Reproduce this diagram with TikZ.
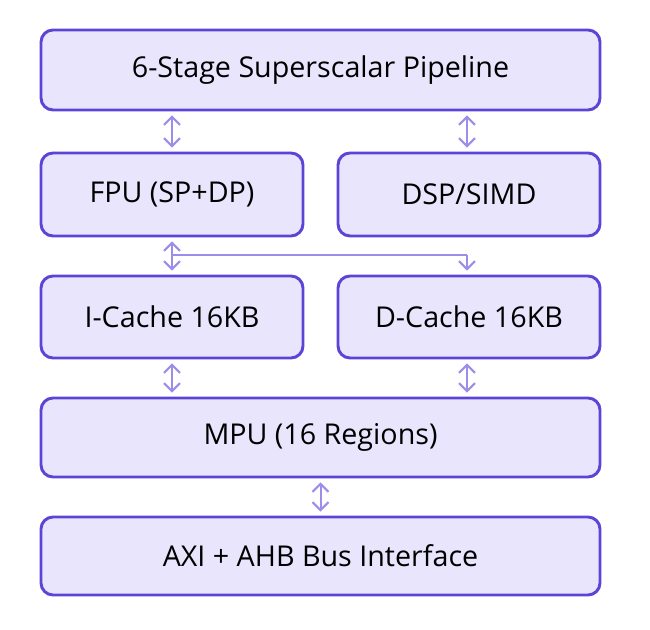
\documentclass[tikz,border=0pt]{standalone}
\usepackage{fontspec}
\setmainfont{Open Sans}
\usetikzlibrary{arrows.meta}
\definecolor{bfill}{HTML}{E8E5FC}
\definecolor{bdraw}{HTML}{5B45D6}
\definecolor{arr}{HTML}{9D8DEA}
\begin{document}
\begin{tikzpicture}[x=0.75pt,y=-0.75pt,
  box/.style={draw=bdraw,fill=bfill,line width=2.2pt,rounded corners=9pt,font=\fontsize{21.5}{25}\selectfont,inner sep=0pt},
  con/.style={draw=arr,line width=1.5pt},
  bi/.style={{Straight Barb[length=6pt,width=12pt]}-{Straight Barb[length=6pt,width=12pt]}},
  one/.style={-{Straight Barb[length=6pt,width=12pt]}}]
\useasboundingbox (0,0) rectangle (650,630);
\node[box,minimum width=559*0.75pt,minimum height=80*0.75pt] (pipe) at (320.5,70) {6-Stage Superscalar Pipeline};
\node[box,minimum width=262*0.75pt,minimum height=83*0.75pt] (fpu) at (172,194.5) {FPU (SP+DP)};
\node[box,minimum width=262*0.75pt,minimum height=83*0.75pt] (dsp) at (469,194.5) {DSP/SIMD};
\node[box,minimum width=262*0.75pt,minimum height=82*0.75pt] (ic) at (172,317) {I-Cache 16KB};
\node[box,minimum width=262*0.75pt,minimum height=82*0.75pt] (dc) at (469,317) {D-Cache 16KB};
\node[box,minimum width=559*0.75pt,minimum height=79*0.75pt] (mpu) at (320.5,437.5) {MPU (16 Regions)};
\node[box,minimum width=559*0.75pt,minimum height=78*0.75pt] (axi) at (320.5,556) {AXI + AHB Bus Interface};
\coordinate (j) at (172,255);
\coordinate (k) at (467,255);
\draw[con,bi] ([yshift=-3pt]pipe.south -| fpu) -- ([yshift=3pt]fpu.north);
\draw[con,bi] ([yshift=-3pt]pipe.south -| k) -- ([yshift=3pt]dsp.north -| k);
\draw[con,bi] ([yshift=-3pt]fpu.south) -- ([yshift=3pt]ic.north);
\draw[con] (j) -- (k);
\draw[con,one] (k) -- ([yshift=3pt]dc.north -| k);
\draw[con,bi] ([yshift=-3pt]ic.south) -- ([yshift=3pt]mpu.north -| ic);
\draw[con,bi] ([yshift=-3pt]dc.south -| k) -- ([yshift=3pt]mpu.north -| k);
\draw[con,bi] ([yshift=-3pt]mpu.south) -- ([yshift=3pt]axi.north);
\end{tikzpicture}
\end{document}
